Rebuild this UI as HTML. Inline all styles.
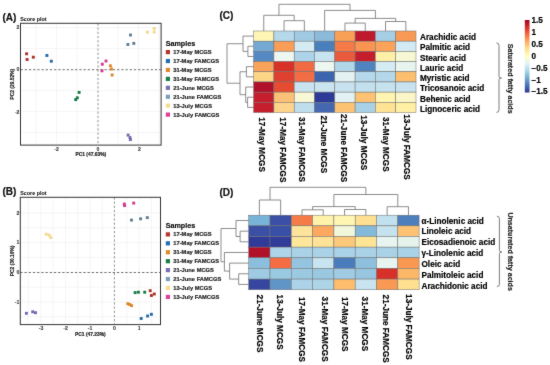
<!DOCTYPE html><html><head><meta charset="utf-8"><style>html,body{margin:0;padding:0;background:#fff;overflow:hidden;width:550px;height:365px;}svg{display:block}text{font-family:"Liberation Sans", sans-serif;}</style></head><body>
<svg width="550" height="365" viewBox="0 0 550 365">
<defs><filter id="bl" x="0" y="0" width="550" height="365" filterUnits="userSpaceOnUse" color-interpolation-filters="sRGB"><feConvolveMatrix order="3" kernelMatrix="0.0150 0.0600 0.0150 0.0600 0.7000 0.0600 0.0150 0.0600 0.0150" edgeMode="duplicate" preserveAlpha="true"/></filter></defs>
<g filter="url(#bl)">
<rect x="0" y="0" width="550" height="365" fill="#fff"/>
<text x="2.50" y="21.10" font-size="10.0" font-weight="bold" text-anchor="start" fill="#111" stroke="#111" stroke-width="0.200" >(A)</text>
<text x="20.20" y="20.60" font-size="5.4" font-weight="bold" text-anchor="start" fill="#111" stroke="#111" stroke-width="0.050" >Score plot</text>
<line x1="36.00" y1="23.30" x2="36.00" y2="145.10" stroke="#efefef" stroke-width="0.6" />
<line x1="56.50" y1="23.30" x2="56.50" y2="145.10" stroke="#efefef" stroke-width="0.6" />
<line x1="77.00" y1="23.30" x2="77.00" y2="145.10" stroke="#efefef" stroke-width="0.6" />
<line x1="118.00" y1="23.30" x2="118.00" y2="145.10" stroke="#efefef" stroke-width="0.6" />
<line x1="138.50" y1="23.30" x2="138.50" y2="145.10" stroke="#efefef" stroke-width="0.6" />
<line x1="159.00" y1="23.30" x2="159.00" y2="145.10" stroke="#efefef" stroke-width="0.6" />
<line x1="20.50" y1="27.50" x2="161.10" y2="27.50" stroke="#efefef" stroke-width="0.6" />
<line x1="20.50" y1="48.50" x2="161.10" y2="48.50" stroke="#efefef" stroke-width="0.6" />
<line x1="20.50" y1="90.50" x2="161.10" y2="90.50" stroke="#efefef" stroke-width="0.6" />
<line x1="20.50" y1="111.50" x2="161.10" y2="111.50" stroke="#efefef" stroke-width="0.6" />
<line x1="20.50" y1="132.50" x2="161.10" y2="132.50" stroke="#efefef" stroke-width="0.6" />
<line x1="98.00" y1="23.30" x2="98.00" y2="145.10" stroke="#777" stroke-width="0.8" stroke-dasharray="2.3,1.9"/>
<line x1="20.50" y1="69.70" x2="161.10" y2="69.70" stroke="#555" stroke-width="0.85" stroke-dasharray="2.3,1.9"/>
<rect x="20.5" y="23.3" width="140.6" height="121.8" fill="none" stroke="#333" stroke-width="1.0"/>
<text x="56.50" y="150.90" font-size="5.2" font-weight="bold" text-anchor="middle" fill="#333" stroke="#333" stroke-width="0.050" >-2</text>
<text x="98.00" y="150.90" font-size="5.2" font-weight="bold" text-anchor="middle" fill="#333" stroke="#333" stroke-width="0.050" >0</text>
<text x="139.50" y="150.90" font-size="5.2" font-weight="bold" text-anchor="middle" fill="#333" stroke="#333" stroke-width="0.050" >2</text>
<text x="19.50" y="29.20" font-size="5.2" font-weight="bold" text-anchor="end" fill="#333" stroke="#333" stroke-width="0.050" >2</text>
<text x="19.50" y="71.20" font-size="5.2" font-weight="bold" text-anchor="end" fill="#333" stroke="#333" stroke-width="0.050" >0</text>
<text x="19.50" y="113.90" font-size="5.2" font-weight="bold" text-anchor="end" fill="#333" stroke="#333" stroke-width="0.050" >-2</text>
<rect x="25.15" y="52.35" width="2.9" height="2.9" fill="#aa3229"/>
<rect x="25.65" y="58.05" width="2.9" height="2.9" fill="#aa3229"/>
<rect x="31.85" y="55.75" width="2.9" height="2.9" fill="#aa3229"/>
<rect x="45.45" y="54.05" width="2.9" height="2.9" fill="#1f6aaa"/>
<rect x="49.85" y="59.75" width="2.9" height="2.9" fill="#1f6aaa"/>
<rect x="108.95" y="64.35" width="2.9" height="2.9" fill="#dc8628"/>
<rect x="110.05" y="67.55" width="2.9" height="2.9" fill="#dc8628"/>
<rect x="110.65" y="73.55" width="2.9" height="2.9" fill="#dc8628"/>
<rect x="77.65" y="90.95" width="2.9" height="2.9" fill="#177a43"/>
<rect x="75.85" y="96.35" width="2.9" height="2.9" fill="#177a43"/>
<rect x="74.25" y="98.15" width="2.9" height="2.9" fill="#177a43"/>
<rect x="126.65" y="133.65" width="2.9" height="2.9" fill="#7466ad"/>
<rect x="128.55" y="136.15" width="2.9" height="2.9" fill="#7466ad"/>
<rect x="128.95" y="138.05" width="2.9" height="2.9" fill="#7466ad"/>
<rect x="129.05" y="33.55" width="2.9" height="2.9" fill="#5f7e92"/>
<rect x="126.45" y="43.05" width="2.9" height="2.9" fill="#5f7e92"/>
<rect x="132.35" y="41.95" width="2.9" height="2.9" fill="#5f7e92"/>
<rect x="145.95" y="30.75" width="2.9" height="2.9" fill="#f2d88a"/>
<rect x="152.75" y="27.05" width="2.9" height="2.9" fill="#f2d88a"/>
<rect x="152.75" y="30.55" width="2.9" height="2.9" fill="#f2d88a"/>
<rect x="100.85" y="62.75" width="2.9" height="2.9" fill="#d23a8e"/>
<rect x="104.55" y="59.55" width="2.9" height="2.9" fill="#d23a8e"/>
<rect x="100.55" y="69.35" width="2.9" height="2.9" fill="#d23a8e"/>
<text x="90.80" y="156.30" font-size="4.9" font-weight="bold" text-anchor="middle" fill="#222" stroke="#222" stroke-width="0.180" >PC1 (47.63%)</text>
<text x="13.90" y="84.20" font-size="4.9" font-weight="bold" text-anchor="middle" fill="#222" stroke="#222" stroke-width="0.180" transform="rotate(-90 13.9 84.2)" >PC2 (29.52%)</text>
<text x="165.70" y="45.50" font-size="7.2" font-weight="bold" text-anchor="start" fill="#111" stroke="#111" stroke-width="0.180" >Samples</text>
<rect x="165.8" y="50.00" width="4.2" height="4.2" fill="#b3352b"/>
<text x="173.30" y="54.15" font-size="5.75" font-weight="bold" text-anchor="start" fill="#222" stroke="#222" stroke-width="0.180" >17-May MCGS</text>
<rect x="165.8" y="58.93" width="4.2" height="4.2" fill="#1f70b4"/>
<text x="173.30" y="63.08" font-size="5.75" font-weight="bold" text-anchor="start" fill="#222" stroke="#222" stroke-width="0.180" >17-May FAMCGS</text>
<rect x="165.8" y="67.86" width="4.2" height="4.2" fill="#e08a2a"/>
<text x="173.30" y="72.01" font-size="5.75" font-weight="bold" text-anchor="start" fill="#222" stroke="#222" stroke-width="0.180" >31-May MCGS</text>
<rect x="165.8" y="76.79" width="4.2" height="4.2" fill="#187f46"/>
<text x="173.30" y="80.94" font-size="5.75" font-weight="bold" text-anchor="start" fill="#222" stroke="#222" stroke-width="0.180" >31-May FAMCGS</text>
<rect x="165.8" y="85.72" width="4.2" height="4.2" fill="#7a6fb4"/>
<text x="173.30" y="89.87" font-size="5.75" font-weight="bold" text-anchor="start" fill="#222" stroke="#222" stroke-width="0.180" >21-June MCGS</text>
<rect x="165.8" y="94.65" width="4.2" height="4.2" fill="#7aa0bb"/>
<text x="173.30" y="98.80" font-size="5.75" font-weight="bold" text-anchor="start" fill="#222" stroke="#222" stroke-width="0.180" >21-June FAMCGS</text>
<rect x="165.8" y="103.58" width="4.2" height="4.2" fill="#f6dc8e"/>
<text x="173.30" y="107.73" font-size="5.75" font-weight="bold" text-anchor="start" fill="#222" stroke="#222" stroke-width="0.180" >13-July MCGS</text>
<rect x="165.8" y="112.51" width="4.2" height="4.2" fill="#df4098"/>
<text x="173.30" y="116.66" font-size="5.75" font-weight="bold" text-anchor="start" fill="#222" stroke="#222" stroke-width="0.180" >13-July FAMCGS</text>
<text x="2.50" y="195.30" font-size="10.0" font-weight="bold" text-anchor="start" fill="#111" stroke="#111" stroke-width="0.200" >(B)</text>
<text x="20.20" y="194.80" font-size="5.4" font-weight="bold" text-anchor="start" fill="#111" stroke="#111" stroke-width="0.050" >Score plot</text>
<line x1="28.30" y1="197.30" x2="28.30" y2="324.60" stroke="#efefef" stroke-width="0.6" />
<line x1="40.80" y1="197.30" x2="40.80" y2="324.60" stroke="#efefef" stroke-width="0.6" />
<line x1="53.20" y1="197.30" x2="53.20" y2="324.60" stroke="#efefef" stroke-width="0.6" />
<line x1="65.50" y1="197.30" x2="65.50" y2="324.60" stroke="#efefef" stroke-width="0.6" />
<line x1="77.80" y1="197.30" x2="77.80" y2="324.60" stroke="#efefef" stroke-width="0.6" />
<line x1="90.20" y1="197.30" x2="90.20" y2="324.60" stroke="#efefef" stroke-width="0.6" />
<line x1="102.40" y1="197.30" x2="102.40" y2="324.60" stroke="#efefef" stroke-width="0.6" />
<line x1="126.80" y1="197.30" x2="126.80" y2="324.60" stroke="#efefef" stroke-width="0.6" />
<line x1="139.20" y1="197.30" x2="139.20" y2="324.60" stroke="#efefef" stroke-width="0.6" />
<line x1="151.50" y1="197.30" x2="151.50" y2="324.60" stroke="#efefef" stroke-width="0.6" />
<line x1="20.30" y1="213.00" x2="160.50" y2="213.00" stroke="#efefef" stroke-width="0.6" />
<line x1="20.30" y1="227.80" x2="160.50" y2="227.80" stroke="#efefef" stroke-width="0.6" />
<line x1="20.30" y1="242.60" x2="160.50" y2="242.60" stroke="#efefef" stroke-width="0.6" />
<line x1="20.30" y1="257.40" x2="160.50" y2="257.40" stroke="#efefef" stroke-width="0.6" />
<line x1="20.30" y1="287.20" x2="160.50" y2="287.20" stroke="#efefef" stroke-width="0.6" />
<line x1="20.30" y1="302.00" x2="160.50" y2="302.00" stroke="#efefef" stroke-width="0.6" />
<line x1="20.30" y1="316.80" x2="160.50" y2="316.80" stroke="#efefef" stroke-width="0.6" />
<line x1="114.40" y1="197.30" x2="114.40" y2="324.60" stroke="#777" stroke-width="0.8" stroke-dasharray="2.3,1.9"/>
<line x1="20.30" y1="272.50" x2="160.50" y2="272.50" stroke="#555" stroke-width="0.85" stroke-dasharray="2.3,1.9"/>
<rect x="20.3" y="197.3" width="140.2" height="127.30000000000001" fill="none" stroke="#333" stroke-width="1.0"/>
<text x="41.00" y="330.40" font-size="5.2" font-weight="bold" text-anchor="middle" fill="#333" stroke="#333" stroke-width="0.050" >-3</text>
<text x="65.50" y="330.40" font-size="5.2" font-weight="bold" text-anchor="middle" fill="#333" stroke="#333" stroke-width="0.050" >-2</text>
<text x="90.00" y="330.40" font-size="5.2" font-weight="bold" text-anchor="middle" fill="#333" stroke="#333" stroke-width="0.050" >-1</text>
<text x="114.40" y="330.40" font-size="5.2" font-weight="bold" text-anchor="middle" fill="#333" stroke="#333" stroke-width="0.050" >0</text>
<text x="139.20" y="330.40" font-size="5.2" font-weight="bold" text-anchor="middle" fill="#333" stroke="#333" stroke-width="0.050" >1</text>
<text x="19.30" y="214.50" font-size="5.2" font-weight="bold" text-anchor="end" fill="#333" stroke="#333" stroke-width="0.050" >2</text>
<text x="19.30" y="244.30" font-size="5.2" font-weight="bold" text-anchor="end" fill="#333" stroke="#333" stroke-width="0.050" >1</text>
<text x="19.30" y="274.00" font-size="5.2" font-weight="bold" text-anchor="end" fill="#333" stroke="#333" stroke-width="0.050" >0</text>
<text x="19.30" y="304.00" font-size="5.2" font-weight="bold" text-anchor="end" fill="#333" stroke="#333" stroke-width="0.050" >-1</text>
<rect x="148.75" y="289.25" width="2.9" height="2.9" fill="#aa3229"/>
<rect x="149.95" y="294.05" width="2.9" height="2.9" fill="#aa3229"/>
<rect x="152.85" y="292.55" width="2.9" height="2.9" fill="#aa3229"/>
<rect x="139.75" y="317.05" width="2.9" height="2.9" fill="#1f6aaa"/>
<rect x="146.15" y="314.55" width="2.9" height="2.9" fill="#1f6aaa"/>
<rect x="149.95" y="312.85" width="2.9" height="2.9" fill="#1f6aaa"/>
<rect x="126.35" y="302.25" width="2.9" height="2.9" fill="#dc8628"/>
<rect x="128.25" y="303.05" width="2.9" height="2.9" fill="#dc8628"/>
<rect x="130.15" y="304.15" width="2.9" height="2.9" fill="#dc8628"/>
<rect x="133.65" y="291.15" width="2.9" height="2.9" fill="#177a43"/>
<rect x="136.95" y="290.75" width="2.9" height="2.9" fill="#177a43"/>
<rect x="143.25" y="290.75" width="2.9" height="2.9" fill="#177a43"/>
<rect x="24.95" y="311.85" width="2.9" height="2.9" fill="#7466ad"/>
<rect x="31.25" y="310.35" width="2.9" height="2.9" fill="#7466ad"/>
<rect x="34.05" y="311.25" width="2.9" height="2.9" fill="#7466ad"/>
<rect x="130.05" y="218.65" width="2.9" height="2.9" fill="#5f7e92"/>
<rect x="139.15" y="217.35" width="2.9" height="2.9" fill="#5f7e92"/>
<rect x="145.85" y="216.15" width="2.9" height="2.9" fill="#5f7e92"/>
<rect x="44.75" y="232.75" width="2.9" height="2.9" fill="#f2d88a"/>
<rect x="47.75" y="233.75" width="2.9" height="2.9" fill="#f2d88a"/>
<rect x="49.35" y="236.15" width="2.9" height="2.9" fill="#f2d88a"/>
<rect x="122.85" y="202.55" width="2.9" height="2.9" fill="#d23a8e"/>
<rect x="123.15" y="204.15" width="2.9" height="2.9" fill="#d23a8e"/>
<rect x="132.25" y="201.65" width="2.9" height="2.9" fill="#d23a8e"/>
<text x="90.40" y="335.80" font-size="4.9" font-weight="bold" text-anchor="middle" fill="#222" stroke="#222" stroke-width="0.180" >PC1 (47.23%)</text>
<text x="13.90" y="260.95" font-size="4.9" font-weight="bold" text-anchor="middle" fill="#222" stroke="#222" stroke-width="0.180" transform="rotate(-90 13.9 260.95000000000005)" >PC2 (30.10%)</text>
<text x="165.70" y="227.80" font-size="7.2" font-weight="bold" text-anchor="start" fill="#111" stroke="#111" stroke-width="0.180" >Samples</text>
<rect x="165.8" y="232.30" width="4.2" height="4.2" fill="#b3352b"/>
<text x="173.30" y="236.45" font-size="5.75" font-weight="bold" text-anchor="start" fill="#222" stroke="#222" stroke-width="0.180" >17-May MCGS</text>
<rect x="165.8" y="241.23" width="4.2" height="4.2" fill="#1f70b4"/>
<text x="173.30" y="245.38" font-size="5.75" font-weight="bold" text-anchor="start" fill="#222" stroke="#222" stroke-width="0.180" >17-May FAMCGS</text>
<rect x="165.8" y="250.16" width="4.2" height="4.2" fill="#e08a2a"/>
<text x="173.30" y="254.31" font-size="5.75" font-weight="bold" text-anchor="start" fill="#222" stroke="#222" stroke-width="0.180" >31-May MCGS</text>
<rect x="165.8" y="259.09" width="4.2" height="4.2" fill="#187f46"/>
<text x="173.30" y="263.24" font-size="5.75" font-weight="bold" text-anchor="start" fill="#222" stroke="#222" stroke-width="0.180" >31-May FAMCGS</text>
<rect x="165.8" y="268.02" width="4.2" height="4.2" fill="#7a6fb4"/>
<text x="173.30" y="272.17" font-size="5.75" font-weight="bold" text-anchor="start" fill="#222" stroke="#222" stroke-width="0.180" >21-June MCGS</text>
<rect x="165.8" y="276.95" width="4.2" height="4.2" fill="#7aa0bb"/>
<text x="173.30" y="281.10" font-size="5.75" font-weight="bold" text-anchor="start" fill="#222" stroke="#222" stroke-width="0.180" >21-June FAMCGS</text>
<rect x="165.8" y="285.88" width="4.2" height="4.2" fill="#f6dc8e"/>
<text x="173.30" y="290.03" font-size="5.75" font-weight="bold" text-anchor="start" fill="#222" stroke="#222" stroke-width="0.180" >13-July MCGS</text>
<rect x="165.8" y="294.81" width="4.2" height="4.2" fill="#df4098"/>
<text x="173.30" y="298.96" font-size="5.75" font-weight="bold" text-anchor="start" fill="#222" stroke="#222" stroke-width="0.180" >13-July FAMCGS</text>
<rect x="253.60" y="31.00" width="20.30" height="10.19" fill="#fff5b5" stroke="#707070" stroke-width="0.5"/>
<rect x="273.90" y="31.00" width="20.30" height="10.19" fill="#b5d8ea" stroke="#707070" stroke-width="0.5"/>
<rect x="294.20" y="31.00" width="20.30" height="10.19" fill="#a0c9e3" stroke="#707070" stroke-width="0.5"/>
<rect x="314.50" y="31.00" width="20.30" height="10.19" fill="#8cbadb" stroke="#707070" stroke-width="0.5"/>
<rect x="334.80" y="31.00" width="20.30" height="10.19" fill="#f9a057" stroke="#707070" stroke-width="0.5"/>
<rect x="355.10" y="31.00" width="20.30" height="10.19" fill="#c0192e" stroke="#707070" stroke-width="0.5"/>
<rect x="375.40" y="31.00" width="20.30" height="10.19" fill="#a6cfe5" stroke="#707070" stroke-width="0.5"/>
<rect x="395.70" y="31.00" width="20.30" height="10.19" fill="#f89a55" stroke="#707070" stroke-width="0.5"/>
<rect x="253.60" y="41.19" width="20.30" height="10.19" fill="#74a9d3" stroke="#707070" stroke-width="0.5"/>
<rect x="273.90" y="41.19" width="20.30" height="10.19" fill="#f99d57" stroke="#707070" stroke-width="0.5"/>
<rect x="294.20" y="41.19" width="20.30" height="10.19" fill="#d5ebf3" stroke="#707070" stroke-width="0.5"/>
<rect x="314.50" y="41.19" width="20.30" height="10.19" fill="#4a7fbe" stroke="#707070" stroke-width="0.5"/>
<rect x="334.80" y="41.19" width="20.30" height="10.19" fill="#f57a48" stroke="#707070" stroke-width="0.5"/>
<rect x="355.10" y="41.19" width="20.30" height="10.19" fill="#f99550" stroke="#707070" stroke-width="0.5"/>
<rect x="375.40" y="41.19" width="20.30" height="10.19" fill="#fba35a" stroke="#707070" stroke-width="0.5"/>
<rect x="395.70" y="41.19" width="20.30" height="10.19" fill="#d2eaf3" stroke="#707070" stroke-width="0.5"/>
<rect x="253.60" y="51.38" width="20.30" height="10.19" fill="#5589c4" stroke="#707070" stroke-width="0.5"/>
<rect x="273.90" y="51.38" width="20.30" height="10.19" fill="#eef7ef" stroke="#707070" stroke-width="0.5"/>
<rect x="294.20" y="51.38" width="20.30" height="10.19" fill="#acd3e8" stroke="#707070" stroke-width="0.5"/>
<rect x="314.50" y="51.38" width="20.30" height="10.19" fill="#c8e4f0" stroke="#707070" stroke-width="0.5"/>
<rect x="334.80" y="51.38" width="20.30" height="10.19" fill="#ea5a3c" stroke="#707070" stroke-width="0.5"/>
<rect x="355.10" y="51.38" width="20.30" height="10.19" fill="#c41e2d" stroke="#707070" stroke-width="0.5"/>
<rect x="375.40" y="51.38" width="20.30" height="10.19" fill="#fff0a8" stroke="#707070" stroke-width="0.5"/>
<rect x="395.70" y="51.38" width="20.30" height="10.19" fill="#f5f8d2" stroke="#707070" stroke-width="0.5"/>
<rect x="253.60" y="61.57" width="20.30" height="10.19" fill="#f9a25a" stroke="#707070" stroke-width="0.5"/>
<rect x="273.90" y="61.57" width="20.30" height="10.19" fill="#d83228" stroke="#707070" stroke-width="0.5"/>
<rect x="294.20" y="61.57" width="20.30" height="10.19" fill="#f06a44" stroke="#707070" stroke-width="0.5"/>
<rect x="314.50" y="61.57" width="20.30" height="10.19" fill="#eef6f0" stroke="#707070" stroke-width="0.5"/>
<rect x="334.80" y="61.57" width="20.30" height="10.19" fill="#b0d6ea" stroke="#707070" stroke-width="0.5"/>
<rect x="355.10" y="61.57" width="20.30" height="10.19" fill="#4f84c0" stroke="#707070" stroke-width="0.5"/>
<rect x="375.40" y="61.57" width="20.30" height="10.19" fill="#d4ebf3" stroke="#707070" stroke-width="0.5"/>
<rect x="395.70" y="61.57" width="20.30" height="10.19" fill="#e8f4ee" stroke="#707070" stroke-width="0.5"/>
<rect x="253.60" y="71.76" width="20.30" height="10.19" fill="#fdd587" stroke="#707070" stroke-width="0.5"/>
<rect x="273.90" y="71.76" width="20.30" height="10.19" fill="#e0402f" stroke="#707070" stroke-width="0.5"/>
<rect x="294.20" y="71.76" width="20.30" height="10.19" fill="#f26c44" stroke="#707070" stroke-width="0.5"/>
<rect x="314.50" y="71.76" width="20.30" height="10.19" fill="#3d64ae" stroke="#707070" stroke-width="0.5"/>
<rect x="334.80" y="71.76" width="20.30" height="10.19" fill="#e4f3f2" stroke="#707070" stroke-width="0.5"/>
<rect x="355.10" y="71.76" width="20.30" height="10.19" fill="#b5d8ea" stroke="#707070" stroke-width="0.5"/>
<rect x="375.40" y="71.76" width="20.30" height="10.19" fill="#b4d8ea" stroke="#707070" stroke-width="0.5"/>
<rect x="395.70" y="71.76" width="20.30" height="10.19" fill="#fcbf6e" stroke="#707070" stroke-width="0.5"/>
<rect x="253.60" y="81.95" width="20.30" height="10.19" fill="#b0102a" stroke="#707070" stroke-width="0.5"/>
<rect x="273.90" y="81.95" width="20.30" height="10.19" fill="#e64c31" stroke="#707070" stroke-width="0.5"/>
<rect x="294.20" y="81.95" width="20.30" height="10.19" fill="#c9e4f0" stroke="#707070" stroke-width="0.5"/>
<rect x="314.50" y="81.95" width="20.30" height="10.19" fill="#cbe5f0" stroke="#707070" stroke-width="0.5"/>
<rect x="334.80" y="81.95" width="20.30" height="10.19" fill="#c8e3ef" stroke="#707070" stroke-width="0.5"/>
<rect x="355.10" y="81.95" width="20.30" height="10.19" fill="#c3e0ee" stroke="#707070" stroke-width="0.5"/>
<rect x="375.40" y="81.95" width="20.30" height="10.19" fill="#c6e2ef" stroke="#707070" stroke-width="0.5"/>
<rect x="395.70" y="81.95" width="20.30" height="10.19" fill="#c8e3ef" stroke="#707070" stroke-width="0.5"/>
<rect x="253.60" y="92.14" width="20.30" height="10.19" fill="#c51f2d" stroke="#707070" stroke-width="0.5"/>
<rect x="273.90" y="92.14" width="20.30" height="10.19" fill="#fcc177" stroke="#707070" stroke-width="0.5"/>
<rect x="294.20" y="92.14" width="20.30" height="10.19" fill="#f8f8d5" stroke="#707070" stroke-width="0.5"/>
<rect x="314.50" y="92.14" width="20.30" height="10.19" fill="#2d3a98" stroke="#707070" stroke-width="0.5"/>
<rect x="334.80" y="92.14" width="20.30" height="10.19" fill="#e2f2f4" stroke="#707070" stroke-width="0.5"/>
<rect x="355.10" y="92.14" width="20.30" height="10.19" fill="#fdc272" stroke="#707070" stroke-width="0.5"/>
<rect x="375.40" y="92.14" width="20.30" height="10.19" fill="#fff5b0" stroke="#707070" stroke-width="0.5"/>
<rect x="395.70" y="92.14" width="20.30" height="10.19" fill="#fbf6c8" stroke="#707070" stroke-width="0.5"/>
<rect x="253.60" y="102.33" width="20.30" height="10.19" fill="#c51f2d" stroke="#707070" stroke-width="0.5"/>
<rect x="273.90" y="102.33" width="20.30" height="10.19" fill="#fdd58a" stroke="#707070" stroke-width="0.5"/>
<rect x="294.20" y="102.33" width="20.30" height="10.19" fill="#bedeed" stroke="#707070" stroke-width="0.5"/>
<rect x="314.50" y="102.33" width="20.30" height="10.19" fill="#4468b0" stroke="#707070" stroke-width="0.5"/>
<rect x="334.80" y="102.33" width="20.30" height="10.19" fill="#fdc374" stroke="#707070" stroke-width="0.5"/>
<rect x="355.10" y="102.33" width="20.30" height="10.19" fill="#a8d0e6" stroke="#707070" stroke-width="0.5"/>
<rect x="375.40" y="102.33" width="20.30" height="10.19" fill="#fee395" stroke="#707070" stroke-width="0.5"/>
<rect x="395.70" y="102.33" width="20.30" height="10.19" fill="#fff0a3" stroke="#707070" stroke-width="0.5"/>
<text x="420.00" y="39.89" font-size="8.2" font-weight="bold" text-anchor="start" fill="#000" stroke="#000" stroke-width="0.180" >Arachidic acid</text>
<text x="420.00" y="50.18" font-size="8.2" font-weight="bold" text-anchor="start" fill="#000" stroke="#000" stroke-width="0.180" >Palmitic acid</text>
<text x="420.00" y="61.12" font-size="8.2" font-weight="bold" text-anchor="start" fill="#000" stroke="#000" stroke-width="0.180" >Stearic acid</text>
<text x="420.00" y="70.77" font-size="8.2" font-weight="bold" text-anchor="start" fill="#000" stroke="#000" stroke-width="0.180" >Lauric acid</text>
<text x="420.00" y="80.91" font-size="8.2" font-weight="bold" text-anchor="start" fill="#000" stroke="#000" stroke-width="0.180" >Myristic acid</text>
<text x="420.00" y="91.44" font-size="8.2" font-weight="bold" text-anchor="start" fill="#000" stroke="#000" stroke-width="0.180" >Tricosanoic acid</text>
<text x="420.00" y="101.64" font-size="8.2" font-weight="bold" text-anchor="start" fill="#000" stroke="#000" stroke-width="0.180" >Behenic acid</text>
<text x="420.00" y="112.23" font-size="8.2" font-weight="bold" text-anchor="start" fill="#000" stroke="#000" stroke-width="0.180" >Lignoceric acid</text>
<text x="258.65" y="117.30" font-size="8.2" font-weight="bold" text-anchor="start" fill="#000" stroke="#000" stroke-width="0.180" transform="rotate(90 258.65000000000003 117.3)" >17-May MCGS</text>
<text x="279.55" y="117.30" font-size="8.2" font-weight="bold" text-anchor="start" fill="#000" stroke="#000" stroke-width="0.180" transform="rotate(90 279.55 117.3)" >17-May FAMCGS</text>
<text x="299.35" y="117.00" font-size="8.2" font-weight="bold" text-anchor="start" fill="#000" stroke="#000" stroke-width="0.180" transform="rotate(90 299.35 117)" >31-May FAMCGS</text>
<text x="321.35" y="115.40" font-size="8.2" font-weight="bold" text-anchor="start" fill="#000" stroke="#000" stroke-width="0.180" transform="rotate(90 321.35 115.4)" >21-June MCGS</text>
<text x="340.85" y="114.00" font-size="8.2" font-weight="bold" text-anchor="start" fill="#000" stroke="#000" stroke-width="0.180" transform="rotate(90 340.85 114.0)" >21-June FAMCGS</text>
<text x="361.45" y="115.20" font-size="8.2" font-weight="bold" text-anchor="start" fill="#000" stroke="#000" stroke-width="0.180" transform="rotate(90 361.45 115.2)" >13-July MCGS</text>
<text x="382.55" y="117.00" font-size="8.2" font-weight="bold" text-anchor="start" fill="#000" stroke="#000" stroke-width="0.180" transform="rotate(90 382.55 117)" >31-May MCGS</text>
<text x="403.65" y="114.30" font-size="8.2" font-weight="bold" text-anchor="start" fill="#000" stroke="#000" stroke-width="0.180" transform="rotate(90 403.65000000000003 114.3)" >13-July FAMCGS</text>
<path d="M284.05,31.00 L284.05,20.70 L304.35,20.70 L304.35,31.00" fill="none" stroke="#707070" stroke-width="0.8"/>
<path d="M263.75,31.00 L263.75,15.30 L294.20,15.30 L294.20,20.70" fill="none" stroke="#707070" stroke-width="0.8"/>
<path d="M344.95,31.00 L344.95,23.10 L365.25,23.10 L365.25,31.00" fill="none" stroke="#707070" stroke-width="0.8"/>
<path d="M385.55,31.00 L385.55,21.50 L405.85,21.50 L405.85,31.00" fill="none" stroke="#707070" stroke-width="0.8"/>
<path d="M355.10,23.10 L355.10,18.40 L395.70,18.40 L395.70,21.50" fill="none" stroke="#707070" stroke-width="0.8"/>
<path d="M324.65,31.00 L324.65,10.40 L375.40,10.40 L375.40,18.40" fill="none" stroke="#707070" stroke-width="0.8"/>
<path d="M278.98,15.30 L278.98,4.30 L350.02,4.30 L350.02,10.40" fill="none" stroke="#707070" stroke-width="0.8"/>
<path d="M253.60,46.28 L247.90,46.28 L247.90,56.47 L253.60,56.47" fill="none" stroke="#707070" stroke-width="0.8"/>
<path d="M253.60,36.09 L243.00,36.09 L243.00,51.38 L247.90,51.38" fill="none" stroke="#707070" stroke-width="0.8"/>
<path d="M253.60,66.66 L246.40,66.66 L246.40,76.85 L253.60,76.85" fill="none" stroke="#707070" stroke-width="0.8"/>
<path d="M253.60,97.23 L247.60,97.23 L247.60,107.42 L253.60,107.42" fill="none" stroke="#707070" stroke-width="0.8"/>
<path d="M253.60,87.04 L245.70,87.04 L245.70,102.33 L247.60,102.33" fill="none" stroke="#707070" stroke-width="0.8"/>
<path d="M246.40,71.76 L240.00,71.76 L240.00,94.69 L245.70,94.69" fill="none" stroke="#707070" stroke-width="0.8"/>
<path d="M243.00,43.74 L227.00,43.74 L227.00,83.22 L240.00,83.22" fill="none" stroke="#707070" stroke-width="0.8"/>
<rect x="248.70" y="215.20" width="21.30" height="10.65" fill="#78b3d8" stroke="#707070" stroke-width="0.5"/>
<rect x="270.00" y="215.20" width="21.30" height="10.65" fill="#3a4fa5" stroke="#707070" stroke-width="0.5"/>
<rect x="291.30" y="215.20" width="21.30" height="10.65" fill="#f57b47" stroke="#707070" stroke-width="0.5"/>
<rect x="312.60" y="215.20" width="21.30" height="10.65" fill="#fff3ac" stroke="#707070" stroke-width="0.5"/>
<rect x="333.90" y="215.20" width="21.30" height="10.65" fill="#fff6b3" stroke="#707070" stroke-width="0.5"/>
<rect x="355.20" y="215.20" width="21.30" height="10.65" fill="#fee093" stroke="#707070" stroke-width="0.5"/>
<rect x="376.50" y="215.20" width="21.30" height="10.65" fill="#c2e1ee" stroke="#707070" stroke-width="0.5"/>
<rect x="397.80" y="215.20" width="21.30" height="10.65" fill="#4d7fbe" stroke="#707070" stroke-width="0.5"/>
<rect x="248.70" y="225.85" width="21.30" height="10.65" fill="#3a50a5" stroke="#707070" stroke-width="0.5"/>
<rect x="270.00" y="225.85" width="21.30" height="10.65" fill="#3850a5" stroke="#707070" stroke-width="0.5"/>
<rect x="291.30" y="225.85" width="21.30" height="10.65" fill="#fee49a" stroke="#707070" stroke-width="0.5"/>
<rect x="312.60" y="225.85" width="21.30" height="10.65" fill="#fca95f" stroke="#707070" stroke-width="0.5"/>
<rect x="333.90" y="225.85" width="21.30" height="10.65" fill="#f0f7da" stroke="#707070" stroke-width="0.5"/>
<rect x="355.20" y="225.85" width="21.30" height="10.65" fill="#85b9da" stroke="#707070" stroke-width="0.5"/>
<rect x="376.50" y="225.85" width="21.30" height="10.65" fill="#c5e2ef" stroke="#707070" stroke-width="0.5"/>
<rect x="397.80" y="225.85" width="21.30" height="10.65" fill="#fdc274" stroke="#707070" stroke-width="0.5"/>
<rect x="248.70" y="236.50" width="21.30" height="10.65" fill="#303a98" stroke="#707070" stroke-width="0.5"/>
<rect x="270.00" y="236.50" width="21.30" height="10.65" fill="#313b98" stroke="#707070" stroke-width="0.5"/>
<rect x="291.30" y="236.50" width="21.30" height="10.65" fill="#fee79a" stroke="#707070" stroke-width="0.5"/>
<rect x="312.60" y="236.50" width="21.30" height="10.65" fill="#fee396" stroke="#707070" stroke-width="0.5"/>
<rect x="333.90" y="236.50" width="21.30" height="10.65" fill="#fcc97a" stroke="#707070" stroke-width="0.5"/>
<rect x="355.20" y="236.50" width="21.30" height="10.65" fill="#fee596" stroke="#707070" stroke-width="0.5"/>
<rect x="376.50" y="236.50" width="21.30" height="10.65" fill="#e8f4ef" stroke="#707070" stroke-width="0.5"/>
<rect x="397.80" y="236.50" width="21.30" height="10.65" fill="#e6f3ec" stroke="#707070" stroke-width="0.5"/>
<rect x="248.70" y="247.15" width="21.30" height="10.65" fill="#b01028" stroke="#707070" stroke-width="0.5"/>
<rect x="270.00" y="247.15" width="21.30" height="10.65" fill="#add4e8" stroke="#707070" stroke-width="0.5"/>
<rect x="291.30" y="247.15" width="21.30" height="10.65" fill="#a9d1e7" stroke="#707070" stroke-width="0.5"/>
<rect x="312.60" y="247.15" width="21.30" height="10.65" fill="#a9d1e7" stroke="#707070" stroke-width="0.5"/>
<rect x="333.90" y="247.15" width="21.30" height="10.65" fill="#a9d1e7" stroke="#707070" stroke-width="0.5"/>
<rect x="355.20" y="247.15" width="21.30" height="10.65" fill="#aad2e7" stroke="#707070" stroke-width="0.5"/>
<rect x="376.50" y="247.15" width="21.30" height="10.65" fill="#a9d1e7" stroke="#707070" stroke-width="0.5"/>
<rect x="397.80" y="247.15" width="21.30" height="10.65" fill="#aad2e7" stroke="#707070" stroke-width="0.5"/>
<rect x="248.70" y="257.80" width="21.30" height="10.65" fill="#8cbfde" stroke="#707070" stroke-width="0.5"/>
<rect x="270.00" y="257.80" width="21.30" height="10.65" fill="#f46d43" stroke="#707070" stroke-width="0.5"/>
<rect x="291.30" y="257.80" width="21.30" height="10.65" fill="#95c4e0" stroke="#707070" stroke-width="0.5"/>
<rect x="312.60" y="257.80" width="21.30" height="10.65" fill="#c8e4f0" stroke="#707070" stroke-width="0.5"/>
<rect x="333.90" y="257.80" width="21.30" height="10.65" fill="#4a7cbd" stroke="#707070" stroke-width="0.5"/>
<rect x="355.20" y="257.80" width="21.30" height="10.65" fill="#8ec0dd" stroke="#707070" stroke-width="0.5"/>
<rect x="376.50" y="257.80" width="21.30" height="10.65" fill="#e8f4f0" stroke="#707070" stroke-width="0.5"/>
<rect x="397.80" y="257.80" width="21.30" height="10.65" fill="#f99850" stroke="#707070" stroke-width="0.5"/>
<rect x="248.70" y="268.45" width="21.30" height="10.65" fill="#9ecbe3" stroke="#707070" stroke-width="0.5"/>
<rect x="270.00" y="268.45" width="21.30" height="10.65" fill="#9ac9e2" stroke="#707070" stroke-width="0.5"/>
<rect x="291.30" y="268.45" width="21.30" height="10.65" fill="#9cc9e2" stroke="#707070" stroke-width="0.5"/>
<rect x="312.60" y="268.45" width="21.30" height="10.65" fill="#9ac8e1" stroke="#707070" stroke-width="0.5"/>
<rect x="333.90" y="268.45" width="21.30" height="10.65" fill="#a0cbe3" stroke="#707070" stroke-width="0.5"/>
<rect x="355.20" y="268.45" width="21.30" height="10.65" fill="#98c5e0" stroke="#707070" stroke-width="0.5"/>
<rect x="376.50" y="268.45" width="21.30" height="10.65" fill="#d7302a" stroke="#707070" stroke-width="0.5"/>
<rect x="397.80" y="268.45" width="21.30" height="10.65" fill="#fcb767" stroke="#707070" stroke-width="0.5"/>
<rect x="248.70" y="279.10" width="21.30" height="10.65" fill="#36469f" stroke="#707070" stroke-width="0.5"/>
<rect x="270.00" y="279.10" width="21.30" height="10.65" fill="#6096c7" stroke="#707070" stroke-width="0.5"/>
<rect x="291.30" y="279.10" width="21.30" height="10.65" fill="#acd3e8" stroke="#707070" stroke-width="0.5"/>
<rect x="312.60" y="279.10" width="21.30" height="10.65" fill="#aed4e8" stroke="#707070" stroke-width="0.5"/>
<rect x="333.90" y="279.10" width="21.30" height="10.65" fill="#fdbd6d" stroke="#707070" stroke-width="0.5"/>
<rect x="355.20" y="279.10" width="21.30" height="10.65" fill="#c8e4f0" stroke="#707070" stroke-width="0.5"/>
<rect x="376.50" y="279.10" width="21.30" height="10.65" fill="#f99953" stroke="#707070" stroke-width="0.5"/>
<rect x="397.80" y="279.10" width="21.30" height="10.65" fill="#fee08f" stroke="#707070" stroke-width="0.5"/>
<text x="421.50" y="223.91" font-size="8.2" font-weight="bold" text-anchor="start" fill="#000" stroke="#000" stroke-width="0.180" >α-Linolenic acid</text>
<text x="421.50" y="234.48" font-size="8.2" font-weight="bold" text-anchor="start" fill="#000" stroke="#000" stroke-width="0.180" >Linoleic acid</text>
<text x="421.50" y="245.10" font-size="8.2" font-weight="bold" text-anchor="start" fill="#000" stroke="#000" stroke-width="0.180" >Eicosadienoic acid</text>
<text x="421.50" y="255.93" font-size="8.2" font-weight="bold" text-anchor="start" fill="#000" stroke="#000" stroke-width="0.180" >γ-Linolenic acid</text>
<text x="421.50" y="267.34" font-size="8.2" font-weight="bold" text-anchor="start" fill="#000" stroke="#000" stroke-width="0.180" >Oleic acid</text>
<text x="421.50" y="278.36" font-size="8.2" font-weight="bold" text-anchor="start" fill="#000" stroke="#000" stroke-width="0.180" >Palmitoleic acid</text>
<text x="421.50" y="288.88" font-size="8.2" font-weight="bold" text-anchor="start" fill="#000" stroke="#000" stroke-width="0.180" >Arachidonic acid</text>
<text x="257.35" y="294.60" font-size="8.2" font-weight="bold" text-anchor="start" fill="#000" stroke="#000" stroke-width="0.180" transform="rotate(90 257.35 294.6)" >21-June MCGS</text>
<text x="277.05" y="294.60" font-size="8.2" font-weight="bold" text-anchor="start" fill="#000" stroke="#000" stroke-width="0.180" transform="rotate(90 277.05 294.6)" >13-July MCGS</text>
<text x="299.25" y="296.90" font-size="8.2" font-weight="bold" text-anchor="start" fill="#000" stroke="#000" stroke-width="0.180" transform="rotate(90 299.25 296.9)" >17-May FAMCGS</text>
<text x="321.55" y="296.60" font-size="8.2" font-weight="bold" text-anchor="start" fill="#000" stroke="#000" stroke-width="0.180" transform="rotate(90 321.55 296.6)" >31-May FAMCGS</text>
<text x="342.45" y="296.90" font-size="8.2" font-weight="bold" text-anchor="start" fill="#000" stroke="#000" stroke-width="0.180" transform="rotate(90 342.45 296.9)" >17-May MCGS</text>
<text x="362.45" y="296.60" font-size="8.2" font-weight="bold" text-anchor="start" fill="#000" stroke="#000" stroke-width="0.180" transform="rotate(90 362.45 296.6)" >31-May MCGS</text>
<text x="383.35" y="294.60" font-size="8.2" font-weight="bold" text-anchor="start" fill="#000" stroke="#000" stroke-width="0.180" transform="rotate(90 383.35 294.6)" >21-June FAMCGS</text>
<text x="406.25" y="294.10" font-size="8.2" font-weight="bold" text-anchor="start" fill="#000" stroke="#000" stroke-width="0.180" transform="rotate(90 406.25 294.1)" >13-July FAMCGS</text>
<path d="M259.35,215.20 L259.35,200.00 L280.65,200.00 L280.65,215.20" fill="none" stroke="#707070" stroke-width="0.8"/>
<path d="M301.95,215.20 L301.95,209.80 L323.25,209.80 L323.25,215.20" fill="none" stroke="#707070" stroke-width="0.8"/>
<path d="M344.55,215.20 L344.55,209.50 L365.85,209.50 L365.85,215.20" fill="none" stroke="#707070" stroke-width="0.8"/>
<path d="M312.60,209.80 L312.60,206.60 L355.20,206.60 L355.20,209.50" fill="none" stroke="#707070" stroke-width="0.8"/>
<path d="M387.15,215.20 L387.15,206.70 L408.45,206.70 L408.45,215.20" fill="none" stroke="#707070" stroke-width="0.8"/>
<path d="M333.90,206.60 L333.90,194.50 L397.80,194.50 L397.80,206.70" fill="none" stroke="#707070" stroke-width="0.8"/>
<path d="M270.00,200.00 L270.00,187.30 L365.85,187.30 L365.85,194.50" fill="none" stroke="#707070" stroke-width="0.8"/>
<path d="M248.70,231.17 L240.10,231.17 L240.10,241.82 L248.70,241.82" fill="none" stroke="#707070" stroke-width="0.8"/>
<path d="M248.70,220.52 L236.00,220.52 L236.00,236.50 L240.10,236.50" fill="none" stroke="#707070" stroke-width="0.8"/>
<path d="M248.70,273.77 L238.70,273.77 L238.70,284.43 L248.70,284.43" fill="none" stroke="#707070" stroke-width="0.8"/>
<path d="M248.70,263.12 L229.60,263.12 L229.60,279.10 L238.70,279.10" fill="none" stroke="#707070" stroke-width="0.8"/>
<path d="M248.70,252.47 L224.40,252.47 L224.40,271.11 L229.60,271.11" fill="none" stroke="#707070" stroke-width="0.8"/>
<path d="M236.00,228.51 L221.00,228.51 L221.00,261.79 L224.40,261.79" fill="none" stroke="#707070" stroke-width="0.8"/>
<text x="219.50" y="18.50" font-size="10.0" font-weight="bold" text-anchor="start" fill="#111" stroke="#111" stroke-width="0.200" >(C)</text>
<text x="219.50" y="196.00" font-size="10.0" font-weight="bold" text-anchor="start" fill="#111" stroke="#111" stroke-width="0.200" >(D)</text>
<path d="M496.50,43.00 Q499.00,43.00 499.00,45.50 L499.00,76.50 Q499.00,78.00 501.40,78.00 Q499.00,78.00 499.00,79.50 L499.00,109.90 Q499.00,112.40 496.50,112.40" fill="none" stroke="#5a5a5a" stroke-width="0.8"/>
<text x="507.80" y="43.80" font-size="7.1" font-weight="bold" text-anchor="start" fill="#222" stroke="#222" stroke-width="0.180" transform="rotate(90 507.8 43.8)" >Saturated fatty acids</text>
<path d="M496.90,216.20 Q499.40,216.20 499.40,218.70 L499.40,250.50 Q499.40,252.00 501.80,252.00 Q499.40,252.00 499.40,253.50 L499.40,284.10 Q499.40,286.60 496.90,286.60" fill="none" stroke="#5a5a5a" stroke-width="0.8"/>
<text x="507.70" y="212.40" font-size="7.1" font-weight="bold" text-anchor="start" fill="#222" stroke="#222" stroke-width="0.180" transform="rotate(90 507.7 212.4)" >Unsaturated fatty acids</text>
<defs><linearGradient id="cb" x1="0" y1="0" x2="0" y2="1"><stop offset="0" stop-color="#a50026"/><stop offset="0.1" stop-color="#d73027"/><stop offset="0.2" stop-color="#f46d43"/><stop offset="0.3" stop-color="#fdae61"/><stop offset="0.4" stop-color="#fee090"/><stop offset="0.5" stop-color="#ffffbf"/><stop offset="0.6" stop-color="#e0f3f8"/><stop offset="0.7" stop-color="#abd9e9"/><stop offset="0.8" stop-color="#74add1"/><stop offset="0.9" stop-color="#4575b4"/><stop offset="1" stop-color="#313695"/></linearGradient></defs>
<rect x="524.8" y="20.0" width="4.7" height="72.5" fill="url(#cb)"/>
<text x="531.50" y="23.25" font-size="8.2" font-weight="bold" text-anchor="start" fill="#000" stroke="#000" stroke-width="0.180" >1.5</text>
<text x="531.50" y="35.10" font-size="8.2" font-weight="bold" text-anchor="start" fill="#000" stroke="#000" stroke-width="0.180" >1</text>
<text x="531.50" y="46.95" font-size="8.2" font-weight="bold" text-anchor="start" fill="#000" stroke="#000" stroke-width="0.180" >0.5</text>
<text x="531.50" y="58.80" font-size="8.2" font-weight="bold" text-anchor="start" fill="#000" stroke="#000" stroke-width="0.180" >0</text>
<text x="531.50" y="70.65" font-size="8.2" font-weight="bold" text-anchor="start" fill="#000" stroke="#000" stroke-width="0.180" >−0.5</text>
<text x="531.50" y="82.50" font-size="8.2" font-weight="bold" text-anchor="start" fill="#000" stroke="#000" stroke-width="0.180" >−1</text>
<text x="531.50" y="94.35" font-size="8.2" font-weight="bold" text-anchor="start" fill="#000" stroke="#000" stroke-width="0.180" >−1.5</text>
</g></svg></body></html>
